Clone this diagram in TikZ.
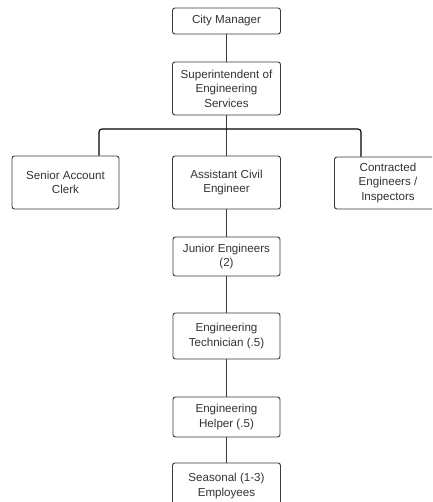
\documentclass[tikz,border=0pt]{standalone}
\usepackage{fontspec}
\setmainfont{Liberation Sans}
\usetikzlibrary{calc}
\definecolor{boxline}{HTML}{3A3A3A}
\definecolor{txt}{HTML}{333333}
\begin{document}
\begin{tikzpicture}[x=1pt,y=-1pt,
  box/.style={draw=boxline, line width=0.9pt, rounded corners=2.5pt, fill=white,
    align=center, text=txt, inner sep=0pt,
    font=\fontsize{11.6}{14.5}\selectfont},
  conn/.style={draw=boxline, line width=0.9pt},
  busline/.style={draw=black, line width=1.1pt, rounded corners=3pt}]
\useasboundingbox (0,0) rectangle (432,502);
\clip (0,0) rectangle (432,502);
\fill[white] (0,0) rectangle (432,502);
\node[box, minimum width=108pt, minimum height=26pt] (cm) at (226.5,21) {City Manager};
\node[box, minimum width=108pt, minimum height=53pt] (sup) at (226.5,88.5) {Superintendent of\\Engineering\\Services};
\node[box, minimum width=107pt, minimum height=53pt] (sen) at (65.5,182.5) {Senior Account\\Clerk};
\node[box, minimum width=108pt, minimum height=53pt] (aci) at (226.5,182.5) {Assistant Civil\\Engineer};
\node[box, minimum width=107pt, minimum height=52pt] (con) at (388,183) {Contracted\\Engineers /\\Inspectors};
\node[box, minimum width=107pt, minimum height=39pt] (jr) at (226.5,256.5) {Junior Engineers\\(2)};
\node[box, minimum width=107pt, minimum height=46pt] (tech) at (226.5,336) {Engineering\\Technician (.5)};
\node[box, minimum width=107pt, minimum height=40pt] (help) at (226.5,417) {Engineering\\Helper (.5)};
\node[box, minimum width=108pt, minimum height=46pt] (seas) at (226.5,486) {Seasonal (1-3)\\Employees};
\coordinate (bus) at (226.5,129);
\draw[conn] (cm.south) -- (sup.north);
\draw[conn] (sup.south) -- (aci.north);
\draw[busline] ([xshift=33.5pt]sen.north) |- (bus) -| ([xshift=-27pt]con.north);
\draw[conn] (aci.south) -- (jr.north);
\draw[conn] (jr.south) -- (tech.north);
\draw[conn] (tech.south) -- (help.north);
\draw[conn] (help.south) -- (seas.north);
\end{tikzpicture}
\end{document}
